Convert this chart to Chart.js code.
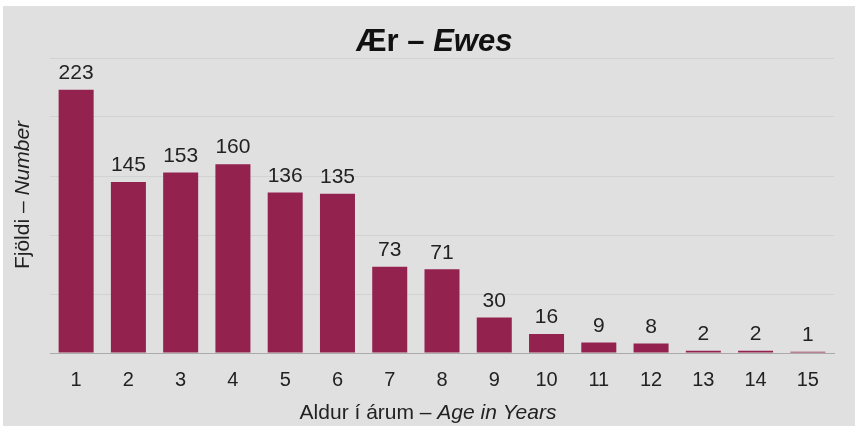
<!DOCTYPE html>
<html>
<head>
<meta charset="utf-8">
<script src="https://cdn.jsdelivr.net/npm/chart.js@4/dist/chart.umd.min.js"></script>
<style>
  body { margin: 0; background: #fff; }
  #wrap { width: 862px; height: 426px; position: relative; }
</style>
</head>
<body>
<div id="wrap"><canvas id="ewes" width="862" height="426"></canvas></div>
<script>
const ages = ['1', '2', '3', '4', '5', '6', '7', '8', '9', '10', '11', '12', '13', '14', '15'];
const counts = [223, 145, 153, 160, 136, 135, 73, 71, 30, 16, 9, 8, 2, 2, 1];

const titleParts = [['Ær – ', false], ['Ewes', true]];
const yTitleParts = [['Fjöldi – ', false], ['Number', true]];
const xTitleParts = [['Aldur í árum – ', false], ['Age in Years', true]];

const FONT = 'Arial, "Liberation Sans", sans-serif';

// draw a line of text where some pieces are italic
function drawMixed(ctx, parts, x, y, size, weight) {
    let total = 0;
    const widths = parts.map(function (p) {
        ctx.font = (p[1] ? 'italic ' : '') + weight + ' ' + size + 'px ' + FONT;
        const w = ctx.measureText(p[0]).width;
        total += w;
        return w;
    });
    let cx = x - total / 2;
    ctx.textAlign = 'left';
    ctx.textBaseline = 'middle';
    parts.forEach(function (p, i) {
        ctx.font = (p[1] ? 'italic ' : '') + weight + ' ' + size + 'px ' + FONT;
        ctx.fillText(p[0], cx, y);
        cx += widths[i];
    });
}

const decor = {
    id: 'decor',
    beforeDraw: function (chart) {
        const ctx = chart.ctx;
        ctx.save();
        ctx.fillStyle = '#e0e0e0';
        ctx.fillRect(3, 6, 852, 420);
        ctx.restore();
    },
    afterDraw: function (chart) {
        const ctx = chart.ctx;
        ctx.save();
        ctx.fillStyle = '#111';
        drawMixed(ctx, titleParts, 434, 42, 31, 'bold');
        ctx.fillStyle = '#222';
        drawMixed(ctx, xTitleParts, 428, 413, 21, 'normal');
        ctx.translate(23, 195);
        ctx.rotate(-Math.PI / 2);
        drawMixed(ctx, yTitleParts, 0, 0, 21, 'normal');
        ctx.restore();

        // value labels above bars
        ctx.save();
        ctx.fillStyle = '#222';
        ctx.font = '21px ' + FONT;
        ctx.textAlign = 'center';
        ctx.textBaseline = 'bottom';
        chart.getDatasetMeta(0).data.forEach(function (bar, i) {
            ctx.fillText(counts[i], bar.x, bar.y - 6);
        });
        ctx.restore();
    }
};

new Chart('ewes', {
    type: 'bar',
    data: {
        labels: ages,
        datasets: [{
            data: counts,
            backgroundColor: '#93224f',
            categoryPercentage: 0.67,
            barPercentage: 1
        }]
    },
    options: {
        responsive: false,
        animation: false,
        layout: { padding: { top: 58, right: 28, left: 0, bottom: 0 } },
        plugins: {
            legend: { display: false },
            tooltip: { enabled: false }
        },
        scales: {
            x: {
                grid: { display: false, drawTicks: false },
                border: { color: '#aaaaaa', width: 1 },
                ticks: { color: '#222', font: { size: 20, family: FONT }, padding: 15 },
                afterFit: function (scale) { scale.height = 73; }
            },
            y: {
                min: 0,
                max: 250,
                grid: { color: '#d2d2d2', drawTicks: false },
                border: { display: false },
                ticks: { display: false, stepSize: 50 },
                afterFit: function (scale) { scale.width = 50; }
            }
        }
    },
    plugins: [decor]
});
</script>
</body>
</html>
